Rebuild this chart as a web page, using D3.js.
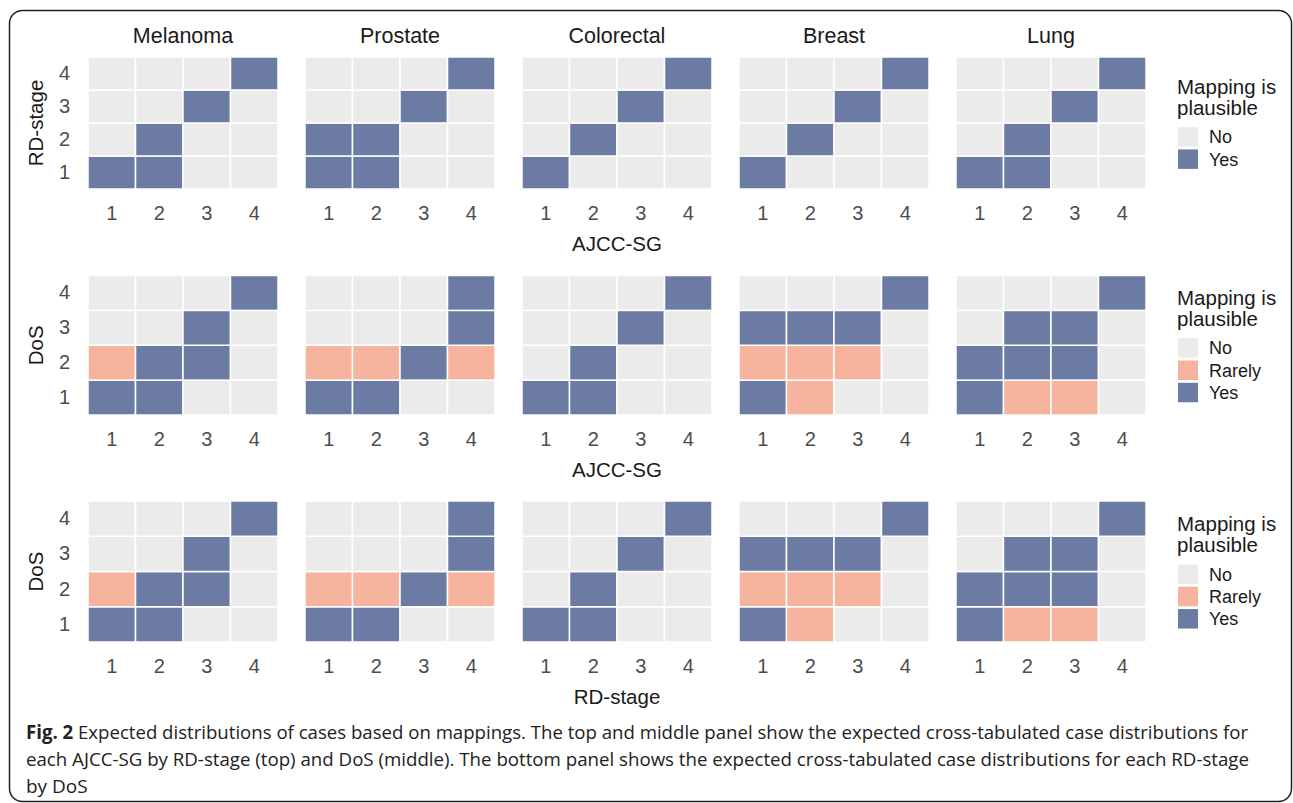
<!DOCTYPE html>
<html>
<head>
<meta charset="utf-8">
<script src="https://cdn.jsdelivr.net/npm/d3@7"></script>
<style>
  body { margin: 0; background: #fff; }
  svg { display: block; }
</style>
</head>
<body>
<script>
// categories
var cancers = ["Melanoma", "Prostate", "Colorectal", "Breast", "Lung"];
var stages = ["1", "2", "3", "4"];
var levels = ["No", "Rarely", "Yes"];
var levelColors = ["#EBEBEB", "#F6B39D", "#6B7BA4"];
var codes = { N: "No", R: "Rarely", Y: "Yes" };

// each panel: rows for y = 1..4, each row has x = 1..4
// top: AJCC-SG (x) by RD-stage (y)
var rdByAjcc = [
  [["Y","Y","N","N"], ["N","Y","N","N"], ["N","N","Y","N"], ["N","N","N","Y"]],
  [["Y","Y","N","N"], ["Y","Y","N","N"], ["N","N","Y","N"], ["N","N","N","Y"]],
  [["Y","N","N","N"], ["N","Y","N","N"], ["N","N","Y","N"], ["N","N","N","Y"]],
  [["Y","N","N","N"], ["N","Y","N","N"], ["N","N","Y","N"], ["N","N","N","Y"]],
  [["Y","Y","N","N"], ["N","Y","N","N"], ["N","N","Y","N"], ["N","N","N","Y"]]
];
// middle: AJCC-SG (x) by DoS (y)
var dosByAjcc = [
  [["Y","Y","N","N"], ["R","Y","Y","N"], ["N","N","Y","N"], ["N","N","N","Y"]],
  [["Y","Y","N","N"], ["R","R","Y","R"], ["N","N","N","Y"], ["N","N","N","Y"]],
  [["Y","Y","N","N"], ["N","Y","N","N"], ["N","N","Y","N"], ["N","N","N","Y"]],
  [["Y","R","N","N"], ["R","R","R","N"], ["Y","Y","Y","N"], ["N","N","N","Y"]],
  [["Y","R","R","N"], ["Y","Y","Y","N"], ["N","Y","Y","N"], ["N","N","N","Y"]]
];
// bottom: RD-stage (x) by DoS (y)
var dosByRd = [
  [["Y","Y","N","N"], ["R","Y","Y","N"], ["N","N","Y","N"], ["N","N","N","Y"]],
  [["Y","Y","N","N"], ["R","R","Y","R"], ["N","N","N","Y"], ["N","N","N","Y"]],
  [["Y","Y","N","N"], ["N","Y","N","N"], ["N","N","Y","N"], ["N","N","N","Y"]],
  [["Y","R","N","N"], ["R","R","R","N"], ["Y","Y","Y","N"], ["N","N","N","Y"]],
  [["Y","R","R","N"], ["Y","Y","Y","N"], ["N","Y","Y","N"], ["N","N","N","Y"]]
];
var xTitles = ["AJCC-SG", "AJCC-SG", "RD-stage"];
var yTitles = ["RD-stage", "DoS", "DoS"];
var legendTitle = ["Mapping is", "plausible"];
var captionBold = "Fig. 2";
var captionLines = [
  " Expected distributions of cases based on mappings. The top and middle panel show the expected cross-tabulated case distributions for",
  "each AJCC-SG by RD-stage (top) and DoS (middle). The bottom panel shows the expected cross-tabulated case distributions for each RD-stage",
  "by DoS"
];

var width = 1293, height = 803;
var font = "'Liberation Sans', Arial, sans-serif";

var rows = [
  { data: rdByAjcc, top: 57, bottom: 189, levels: ["No", "Yes"] },
  { data: dosByAjcc, top: 275.5, bottom: 415, levels: levels },
  { data: dosByRd, top: 501, bottom: 642, levels: levels }
];

var svg = d3.select("body").append("svg")
  .attr("width", width)
  .attr("height", height);

// frame
svg.append("rect")
  .attr("x", 9.5).attr("y", 10.5)
  .attr("width", 1282).attr("height", 791)
  .attr("rx", 13)
  .attr("fill", "none")
  .attr("stroke", "#222")
  .attr("stroke-width", 1.5);

var color = d3.scaleOrdinal().domain(levels).range(levelColors);

var panelX = d3.scaleBand()
  .domain(cancers)
  .range([88, 1146])
  .paddingInner(0.1244);

var x = d3.scaleBand().domain(stages).range([0, panelX.bandwidth()]);

// facet titles
svg.selectAll("text.strip")
  .data(cancers)
  .enter().append("text")
  .attr("class", "strip")
  .attr("x", function(d) { return panelX(d) + panelX.bandwidth() / 2; })
  .attr("y", 43)
  .attr("text-anchor", "middle")
  .attr("font-family", font)
  .attr("font-size", "21.5px")
  .attr("fill", "#1a1a1a")
  .text(function(d) { return d; });

rows.forEach(function(row, r) {
  var y = d3.scaleBand().domain(stages).range([row.bottom, row.top]);

  cancers.forEach(function(c, p) {
    var g = svg.append("g")
      .attr("transform", "translate(" + panelX(c) + ",0)");

    var cells = [];
    row.data[p].forEach(function(line, yi) {
      line.forEach(function(code, xi) {
        cells.push({ x: stages[xi], y: stages[yi], v: codes[code] });
      });
    });

    g.selectAll("rect")
      .data(cells)
      .enter().append("rect")
      .attr("x", function(d) { return x(d.x); })
      .attr("y", function(d) { return y(d.y); })
      .attr("width", x.bandwidth())
      .attr("height", y.bandwidth())
      .attr("fill", function(d) { return color(d.v); })
      .attr("stroke", "#fff")
      .attr("stroke-width", 1.5);

    var xAxis = g.append("g")
      .attr("transform", "translate(0," + row.bottom + ")")
      .call(d3.axisBottom(x).tickSize(0).tickPadding(17));
    xAxis.select(".domain").remove();
    xAxis.selectAll("text")
      .attr("font-family", font)
      .attr("font-size", "20px")
      .attr("fill", "#4d4d4d");

    if (p === 0) {
      var yAxis = g.append("g")
        .call(d3.axisLeft(y).tickSize(0).tickPadding(18));
      yAxis.select(".domain").remove();
      yAxis.selectAll("text")
        .attr("font-family", font)
        .attr("font-size", "20px")
        .attr("fill", "#4d4d4d");
    }
  });

  // axis titles
  svg.append("text")
    .attr("x", 617)
    .attr("y", row.bottom + 62)
    .attr("text-anchor", "middle")
    .attr("font-family", font)
    .attr("font-size", "20.5px")
    .attr("fill", "#1a1a1a")
    .text(xTitles[r]);

  svg.append("text")
    .attr("transform", "translate(43," + (row.top + row.bottom) / 2 + ") rotate(-90)")
    .attr("text-anchor", "middle")
    .attr("font-family", font)
    .attr("font-size", "20.5px")
    .attr("fill", "#1a1a1a")
    .text(yTitles[r]);

  // legend
  var step = 22.3, key = 19.5;
  var blockH = 50 + row.levels.length * step - (step - key);
  var top = (row.top + row.bottom) / 2 - blockH / 2;
  var lg = svg.append("g").attr("transform", "translate(1177," + top + ")");

  lg.selectAll("text.title")
    .data(legendTitle)
    .enter().append("text")
    .attr("class", "title")
    .attr("x", 0)
    .attr("y", function(d, i) { return 17 + i * 20.5; })
    .attr("font-family", font)
    .attr("font-size", "20.5px")
    .attr("fill", "#1a1a1a")
    .text(function(d) { return d; });

  var items = lg.selectAll("g.item")
    .data(row.levels)
    .enter().append("g")
    .attr("class", "item")
    .attr("transform", function(d, i) { return "translate(1," + (50 + i * step) + ")"; });

  items.append("rect")
    .attr("width", 20)
    .attr("height", key)
    .attr("fill", function(d) { return color(d); });

  items.append("text")
    .attr("x", 31)
    .attr("y", key / 2)
    .attr("dy", "0.36em")
    .attr("font-family", font)
    .attr("font-size", "18px")
    .attr("fill", "#1a1a1a")
    .text(function(d) { return d; });
});

// caption
var capFont = "'Open Sans', 'Noto Sans', sans-serif";
var capLengths = [1222, 1223, null];
captionLines.forEach(function(line, i) {
  var t = svg.append("text")
    .attr("x", 26)
    .attr("y", 739 + i * 27)
    .attr("font-family", capFont)
    .attr("font-size", "19px")
    .attr("fill", "#222");
  if (i === 0) {
    t.append("tspan").attr("font-weight", "bold").text(captionBold);
  }
  t.append("tspan").text(line);
  if (capLengths[i]) {
    t.attr("textLength", capLengths[i]).attr("lengthAdjust", "spacingAndGlyphs");
  }
});
</script>
</body>
</html>
